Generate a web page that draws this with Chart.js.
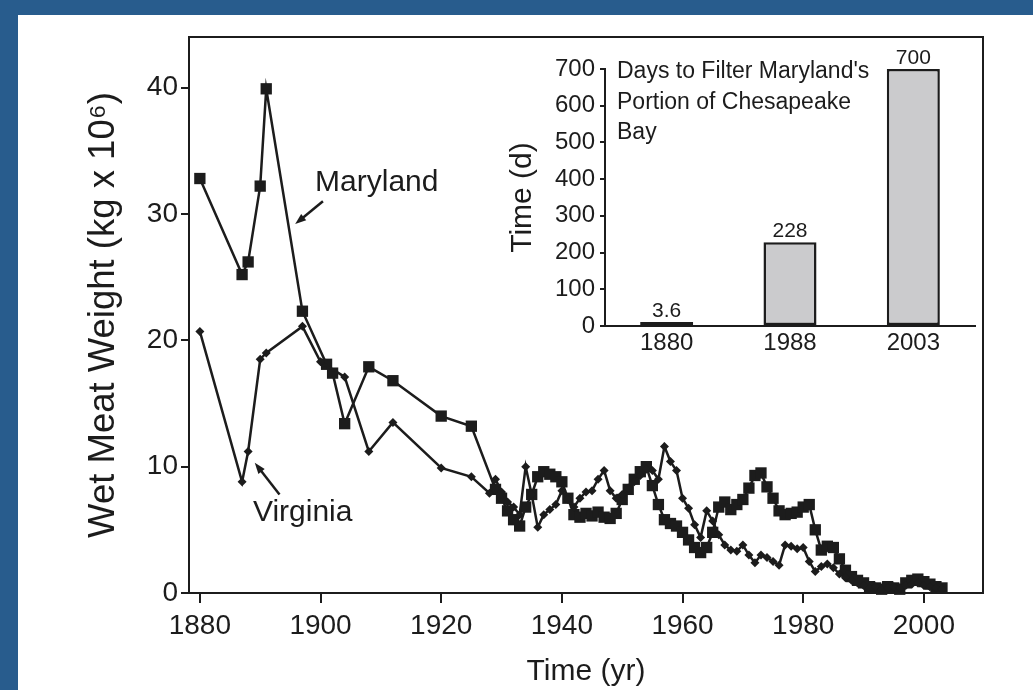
<!DOCTYPE html>
<html>
<head>
<meta charset="utf-8">
<script src="https://cdn.jsdelivr.net/npm/chart.js"></script>
<style>
  body { margin: 0; background: #fff; }
  #wrap { position: relative; width: 1033px; height: 690px; }
  #inset-box { position: absolute; left: 470px; top: 40px; width: 510px; height: 330px; }
</style>
</head>
<body>
<div id="wrap">
  <canvas id="oyster-chart" width="1033" height="690"></canvas>
  <div id="inset-box"><canvas id="filter-chart" width="510" height="330"></canvas></div>
</div>
<script>
// Maryland harvest (kg x 10^6)
const mdYears = [1880, 1887, 1888, 1890, 1891, 1897, 1901, 1902, 1904, 1908, 1912, 1920, 1925,
  1929, 1930, 1931, 1932, 1933, 1934, 1935, 1936, 1937, 1938, 1939, 1940, 1941, 1942, 1943, 1944,
  1945, 1946, 1947, 1948, 1949, 1950, 1951, 1952, 1953, 1954, 1955, 1956, 1957, 1958, 1959, 1960,
  1961, 1962, 1963, 1964, 1965, 1966, 1967, 1968, 1969, 1970, 1971, 1972, 1973, 1974, 1975, 1976,
  1977, 1978, 1979, 1980, 1981, 1982, 1983, 1984, 1985, 1986, 1987, 1988, 1989, 1990, 1991, 1992,
  1993, 1994, 1995, 1996, 1997, 1998, 1999, 2000, 2001, 2002, 2003];
const mdWeight = [32.8, 25.2, 26.2, 32.2, 39.9, 22.3, 18.1, 17.4, 13.4, 17.9, 16.8, 14.0, 13.2,
  8.2, 7.5, 6.5, 5.8, 5.3, 6.8, 7.8, 9.2, 9.6, 9.4, 9.2, 8.8, 7.5, 6.2, 6.0, 6.3,
  6.1, 6.4, 6.0, 5.9, 6.3, 7.4, 8.2, 9.0, 9.6, 10.0, 8.5, 7.0, 5.8, 5.5, 5.3, 4.8,
  4.2, 3.6, 3.2, 3.6, 4.8, 6.8, 7.2, 6.6, 7.0, 7.4, 8.3, 9.3, 9.5, 8.4, 7.5, 6.5,
  6.2, 6.3, 6.4, 6.8, 7.0, 5.0, 3.4, 3.7, 3.6, 2.7, 1.8, 1.3, 1.0, 0.8, 0.5, 0.4,
  0.3, 0.5, 0.4, 0.3, 0.8, 1.0, 1.1, 0.9, 0.7, 0.5, 0.4];

// Virginia harvest (kg x 10^6)
const vaYears = [1880, 1887, 1888, 1890, 1891, 1897, 1900, 1904, 1908, 1912, 1920, 1925, 1928,
  1929, 1930, 1931, 1932, 1933, 1934, 1935, 1936, 1937, 1938, 1939, 1940, 1941, 1942, 1943, 1944,
  1945, 1946, 1947, 1948, 1949, 1950, 1951, 1952, 1953, 1954, 1955, 1956, 1957, 1958, 1959, 1960,
  1961, 1962, 1963, 1964, 1965, 1966, 1967, 1968, 1969, 1970, 1971, 1972, 1973, 1974, 1975, 1976,
  1977, 1978, 1979, 1980, 1981, 1982, 1983, 1984, 1985, 1986, 1987, 1988, 1989, 1990, 1991, 1992,
  1993, 1994, 1995, 1996, 1997, 1998, 1999, 2000, 2001, 2002, 2003];
const vaWeight = [20.7, 8.8, 11.2, 18.5, 19.0, 21.1, 18.3, 17.1, 11.2, 13.5, 9.9, 9.2, 7.9,
  9.0, 8.0, 7.2, 6.8, 6.2, 10.0, 7.8, 5.2, 6.2, 6.6, 7.0, 8.1, 7.4, 6.8, 7.5, 8.0,
  8.1, 9.0, 9.7, 8.1, 7.5, 7.8, 8.3, 8.8, 9.3, 9.8, 9.7, 9.0, 11.6, 10.4, 9.7, 7.5,
  6.7, 5.4, 4.4, 6.5, 5.7, 4.6, 3.8, 3.4, 3.3, 3.8, 3.0, 2.4, 3.0, 2.8, 2.5, 2.2,
  3.8, 3.7, 3.5, 3.6, 2.5, 1.7, 2.1, 2.3, 2.0, 1.5, 1.2, 1.0, 0.8, 0.6, 0.4, 0.5,
  0.3, 0.4, 0.5, 0.4, 0.6, 0.7, 0.8, 0.6, 0.5, 0.4, 0.3];

const xTicks = [1880, 1900, 1920, 1940, 1960, 1980, 2000];
const yTicks = [0, 10, 20, 30, 40];

// inset: days to filter Maryland's portion of the bay
const filterYears = ["1880", "1988", "2003"];
const filterDays = [3.6, 228, 700];
const insetTitle = ["Days to Filter Maryland's", "Portion of Chesapeake", "Bay"];

const FONT = '"Liberation Sans", Arial, Helvetica, sans-serif';
const INK = "#1c1c1c";

const frame = {
  id: "frame",
  beforeDraw(chart) {
    const { ctx } = chart;
    ctx.save();
    ctx.fillStyle = "#285c8d";
    ctx.fillRect(0, 0, chart.width, chart.height);
    ctx.fillStyle = "#fff";
    ctx.fillRect(18, 15, chart.width - 18, chart.height - 15);
    ctx.restore();
  },
  afterDraw(chart) {
    const { ctx, chartArea: a } = chart;
    ctx.save();
    ctx.strokeStyle = INK;
    ctx.lineWidth = 2;
    ctx.beginPath();
    ctx.moveTo(a.left, a.top);
    ctx.lineTo(a.right, a.top);
    ctx.lineTo(a.right, a.bottom);
    ctx.stroke();
    ctx.restore();
  },
};

function arrow(ctx, x1, y1, x2, y2) {
  const ang = Math.atan2(y2 - y1, x2 - x1);
  ctx.beginPath();
  ctx.moveTo(x1, y1);
  ctx.lineTo(x2 - 6 * Math.cos(ang), y2 - 6 * Math.sin(ang));
  ctx.stroke();
  ctx.beginPath();
  ctx.moveTo(x2, y2);
  ctx.lineTo(x2 - 11 * Math.cos(ang) + 4 * Math.sin(ang), y2 - 11 * Math.sin(ang) - 4 * Math.cos(ang));
  ctx.lineTo(x2 - 11 * Math.cos(ang) - 4 * Math.sin(ang), y2 - 11 * Math.sin(ang) + 4 * Math.cos(ang));
  ctx.closePath();
  ctx.fill();
}

const notes = {
  id: "notes",
  afterDatasetsDraw(chart) {
    const { ctx, scales: { x, y } } = chart;
    ctx.save();
    ctx.fillStyle = INK;
    ctx.strokeStyle = INK;
    ctx.lineWidth = 2.5;
    ctx.font = "30px " + FONT;
    ctx.textBaseline = "alphabetic";
    ctx.fillText("Maryland", x.getPixelForValue(1899.1), y.getPixelForValue(31.8));
    arrow(ctx, x.getPixelForValue(1900.4), y.getPixelForValue(31.0), x.getPixelForValue(1895.8), y.getPixelForValue(29.2));
    ctx.fillText("Virginia", x.getPixelForValue(1888.8), y.getPixelForValue(5.7));
    arrow(ctx, x.getPixelForValue(1893.2), y.getPixelForValue(7.8), x.getPixelForValue(1889.1), y.getPixelForValue(10.3));
    ctx.restore();
  },
};

new Chart(document.getElementById("oyster-chart"), {
  type: "line",
  data: {
    datasets: [
      {
        label: "Virginia",
        data: vaYears.map((yr, i) => ({ x: yr, y: vaWeight[i] })),
        borderColor: INK,
        backgroundColor: INK,
        borderWidth: 2.5,
        pointStyle: "rectRot",
        pointRadius: 4.5,
        pointBorderWidth: 0,
        tension: 0,
        clip: false,
      },
      {
        label: "Maryland",
        data: mdYears.map((yr, i) => ({ x: yr, y: mdWeight[i] })),
        borderColor: INK,
        backgroundColor: INK,
        borderWidth: 2.5,
        pointStyle: "rect",
        pointRadius: 8,
        pointBorderWidth: 0,
        tension: 0,
        clip: false,
      },
    ],
  },
  options: {
    responsive: false,
    animation: false,
    layout: { padding: { top: 37, right: 50, left: 0, bottom: 0 } },
    plugins: { legend: { display: false }, tooltip: { enabled: false } },
    scales: {
      x: {
        type: "linear",
        min: 1878.2,
        max: 2009.8,
        afterBuildTicks: (s) => { s.ticks = xTicks.map((v) => ({ value: v })); },
        afterFit: (s) => { s.height = 97; },
        ticks: { callback: (v) => String(v), color: INK, font: { family: FONT, size: 28 }, padding: 6, maxRotation: 0 },
        grid: { drawOnChartArea: false, tickLength: 10, color: INK, lineWidth: 2 },
        border: { color: INK, width: 2 },
        title: { display: true, text: "Time (yr)", color: INK, font: { family: FONT, size: 30 }, padding: { top: 0, bottom: 0 } },
      },
      y: {
        min: 0,
        max: 44,
        afterBuildTicks: (s) => { s.ticks = yTicks.map((v) => ({ value: v })); },
        afterFit: (s) => { s.width = 189; },
        ticks: { color: INK, font: { family: FONT, size: 28 }, padding: 3 },
        grid: { drawOnChartArea: false, tickLength: 8, color: INK, lineWidth: 2 },
        border: { color: INK, width: 2 },
        title: { display: true, text: "Wet Meat Weight (kg x 10\u2076)", color: INK, font: { family: FONT, size: 36.5 }, padding: { top: 82, bottom: 0 } },
      },
    },
  },
  plugins: [frame, notes],
});

const insetText = {
  id: "insetText",
  afterDatasetsDraw(chart) {
    const { ctx, chartArea: a } = chart;
    const meta = chart.getDatasetMeta(0);
    ctx.save();
    ctx.fillStyle = INK;
    ctx.font = "21px " + FONT;
    ctx.textAlign = "center";
    ctx.textBaseline = "alphabetic";
    meta.data.forEach((bar, i) => ctx.fillText(String(filterDays[i]), bar.x, bar.y - 5));
    ctx.font = "23px " + FONT;
    ctx.textAlign = "left";
    ctx.textBaseline = "middle";
    insetTitle.forEach((line, i) => ctx.fillText(line, a.left + 12, a.top + 3 + i * 30.5));
    ctx.restore();
  },
};

new Chart(document.getElementById("filter-chart"), {
  type: "bar",
  data: {
    labels: filterYears,
    datasets: [{
      label: "Time (d)",
      data: filterDays,
      backgroundColor: "#cbcbcd",
      borderColor: INK,
      borderWidth: 2.5,
      borderSkipped: false,
      minBarLength: 4,
      categoryPercentage: 1,
      barPercentage: 0.43,
    }],
  },
  options: {
    responsive: false,
    animation: false,
    layout: { padding: { top: 29, right: 5, left: 0, bottom: 0 } },
    plugins: { legend: { display: false }, tooltip: { enabled: false } },
    scales: {
      x: {
        afterFit: (s) => { s.height = 44; },
        ticks: { color: INK, font: { family: FONT, size: 24 }, padding: 3 },
        grid: { display: false, drawTicks: false },
        border: { color: INK, width: 2 },
      },
      y: {
        min: 0,
        max: 700,
        afterFit: (s) => { s.width = 135; },
        ticks: { stepSize: 100, color: INK, font: { family: FONT, size: 24 }, padding: 5 },
        grid: { drawOnChartArea: false, tickLength: 5, color: INK, lineWidth: 2 },
        border: { color: INK, width: 2 },
        title: { display: true, text: "Time (d)", color: INK, font: { family: FONT, size: 30 }, padding: { top: 35, bottom: 0 } },
      },
    },
  },
  plugins: [insetText],
});
</script>
</body>
</html>
